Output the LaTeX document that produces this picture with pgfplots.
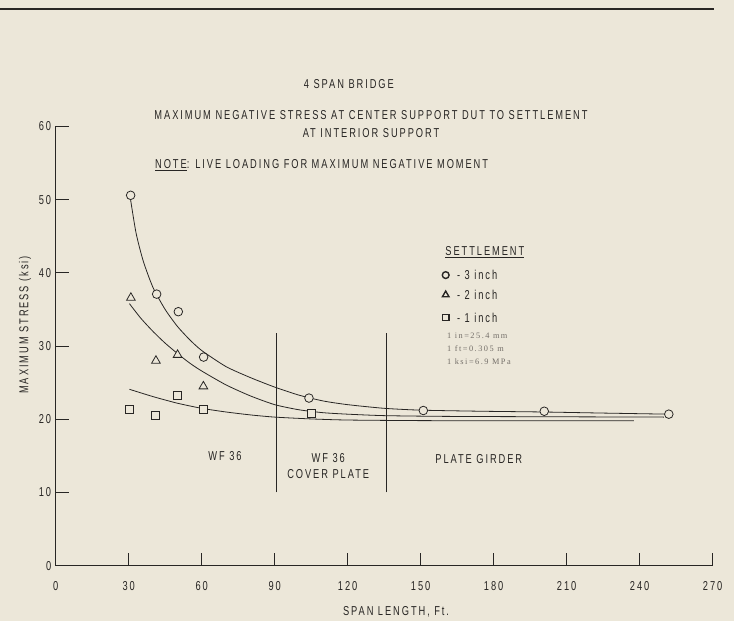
\documentclass[border=0pt]{standalone}
\usepackage{fontspec}
\setmainfont{Liberation Sans}[FakeStretch=0.72,LetterSpace=15]
\newfontfamily\unitfont{Liberation Serif}[LetterSpace=18]
\usepackage{pgfplots}
\pgfplotsset{compat=1.18}
\definecolor{bg}{RGB}{236,231,217}
\definecolor{ink}{RGB}{40,38,36}
\definecolor{unitc}{RGB}{115,110,104}
\newcommand{\lbl}{\fontsize{12.9}{15.5}\selectfont}
\newcommand{\unt}{\unitfont\fontsize{8.3}{9}\selectfont}

\begin{document}
\begin{tikzpicture}
\path[use as bounding box, fill=bg] (-55.7pt,-55.3pt) rectangle (678.3pt,565.7pt);
\begin{axis}[
 at={(0,0)}, anchor=south west, scale only axis,
 width=656.9pt, height=439.2pt,
 xmin=0,xmax=270,ymin=0,ymax=60,
 axis x line=bottom, axis y line=left,
 axis line style={-, line width=0.9pt, ink},
 xtick={0,30,...,270}, ytick={0,10,...,60},
 tick align=inside, major tick length=13pt,
 tick style={line width=0.8pt, ink},
 /pgf/number format/assume math mode=true,
 tick label style={font=\lbl, text=ink},
 xticklabel style={yshift=-12pt},
 yticklabel style={xshift=-1pt},
 clip=false,
]
% header rule
\addplot[ink, line width=2pt] coordinates {(-22.9,76.1) (270.5,76.1)};
% region dividers
\addplot[ink, line width=0.8pt] coordinates {(90.7,10) (90.7,31.8)};
\addplot[ink, line width=0.8pt] coordinates {(135.8,10) (135.8,31.8)};
% fitted curves
\addplot[ink, line width=0.8pt, smooth, tension=0.4] coordinates {
 (30.5,50.6) (33,45.5) (36,41.6) (40,38.0) (45,35.0) (50,32.7) (55,30.9) (60,29.4)
 (70,27.2) (80,25.7) (90,24.4) (100,23.3) (110,22.5) (120,22.0) (135,21.5)
 (150,21.25) (175,21.1) (200,21.0) (225,20.85) (252,20.7)};
\addplot[ink, line width=0.8pt, smooth, tension=0.4] coordinates {
 (30.3,35.8) (35,33.8) (40,32.0) (45,30.4) (50,29.0) (55,27.7) (60,26.6) (70,24.7)
 (80,23.2) (90,22.0) (100,21.3) (110,20.9) (120,20.7) (135,20.5) (160,20.4)
 (200,20.35) (250,20.3)};
\addplot[ink, line width=0.8pt, smooth, tension=0.4] coordinates {
 (30.3,24.1) (40,23.1) (50,22.2) (60,21.5) (70,21.0) (80,20.6) (90,20.3)
 (105,20.05) (120,19.9) (150,19.82) (190,19.8) (237.6,19.8)};
% data points
\addplot[only marks, mark=*, mark size=4.3pt, mark options={draw=ink, fill=bg, line width=0.8pt}] coordinates {
 (30.8,50.6) (41.5,37.1) (50.4,34.7) (60.8,28.5) (104.1,22.9) (151.1,21.2) (200.8,21.1) (252,20.7)};
\addplot[only marks, mark=triangle*, mark size=5pt, mark options={draw=ink, fill=bg, line width=0.8pt}] coordinates {
 (30.9,36.6) (41.2,28.0) (50.1,28.8) (60.7,24.5)};
\addplot[only marks, mark=square*, mark size=4pt, mark options={draw=ink, fill=bg, line width=0.8pt}] coordinates {
 (30.4,21.4) (40.9,20.6) (49.9,23.3) (60.7,21.3) (105.2,20.8)};
% legend marks
\addplot[only marks, mark=*, mark size=3.4pt, mark options={draw=ink, fill=bg, line width=1.4pt}] coordinates {(160.3,39.7)};
\addplot[only marks, mark=triangle*, mark size=3.8pt, mark options={draw=ink, fill=bg, line width=1.4pt}] coordinates {(160.3,37.0)};
\addplot[only marks, mark=square*, mark size=3.2pt, mark options={draw=ink, fill=bg, line width=1.4pt}] coordinates {(160.3,33.9)};

% texts
\node[font=\lbl, text=ink] at (axis cs:120.5,65.8) {4 SPAN BRIDGE};
\node[font=\lbl, text=ink] at (axis cs:129.6,61.5) {MAXIMUM NEGATIVE STRESS AT CENTER SUPPORT DUT TO SETTLEMENT};
\node[font=\lbl, text=ink] at (axis cs:129.6,59.1) {AT INTERIOR SUPPORT};
\node[font=\lbl, text=ink, anchor=west, inner sep=0pt] at (axis cs:40.8,54.7) {\underline{NOTE}: LIVE LOADING FOR MAXIMUM NEGATIVE MOMENT};
\node[font=\lbl, text=ink] at (axis cs:176.4,42.8) {\underline{SETTLEMENT}};
\node[font=\lbl, text=ink, anchor=west, inner sep=0pt] at (axis cs:164.9,39.7) {- 3 inch};
\node[font=\lbl, text=ink, anchor=west, inner sep=0pt] at (axis cs:164.9,37.0) {- 2 inch};
\node[font=\lbl, text=ink, anchor=west, inner sep=0pt] at (axis cs:164.9,33.9) {- 1 inch};
\node[font=\unt, text=unitc, anchor=west, inner sep=0pt] at (axis cs:160.8,31.4) {1 in=25.4 mm};
\node[font=\unt, text=unitc, anchor=west, inner sep=0pt] at (axis cs:160.8,29.6) {1 ft=0.305 m};
\node[font=\unt, text=unitc, anchor=west, inner sep=0pt] at (axis cs:160.8,27.9) {1 ksi=6.9 MPa};
\node[font=\lbl, text=ink] at (axis cs:69.6,15.0) {WF 36};
\node[font=\lbl, text=ink, align=center] at (axis cs:112.0,13.6) {WF 36\\[0pt]COVER PLATE};
\node[font=\lbl, text=ink] at (axis cs:173.9,14.5) {PLATE GIRDER};
\node[font=\lbl, text=ink] at (axis cs:139.9,-6.3) {SPAN LENGTH, Ft.};
\node[font=\lbl, text=ink, rotate=90] at (axis cs:-12.6,32.9) {MAXIMUM STRESS (ksi)};
\end{axis}
\end{tikzpicture}
\end{document}
